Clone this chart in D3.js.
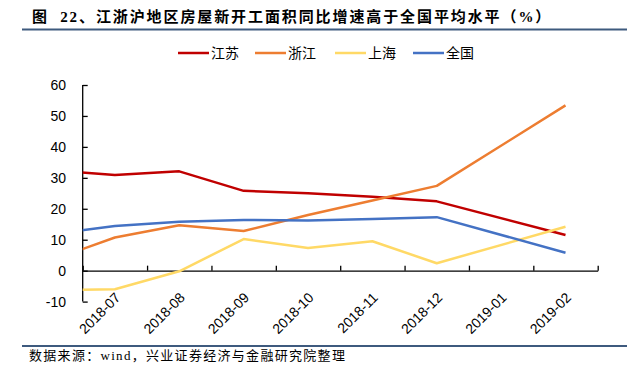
<!DOCTYPE html>
<html>
<head>
<meta charset="utf-8">
<script src="https://cdn.jsdelivr.net/npm/d3@7"></script>
<style>
  body { margin: 0; background: #fff; }
  .axis text { font-family: "Liberation Sans", Arial, sans-serif; font-size: 14px; fill: #000; }
  .axis path, .axis line { stroke: #000; stroke-width: 1.3; }
  .cjk { font-family: "Noto Sans CJK SC", sans-serif; }
  .serif { font-family: "Liberation Serif", "Noto Sans CJK SC", serif; }
</style>
</head>
<body>
<script>
// month labels on the x axis (one slot each)
var tickLabels = ["2018-07", "2018-08", "2018-09", "2018-10", "2018-11", "2018-12", "2019-01", "2019-02"];
// months that have data; 2018-06 sits just left of the axis and gets clipped
var months = ["2018-06", "2018-07", "2018-08", "2018-09", "2018-10", "2018-11", "2018-12", "2019-02"];

var jiangsu  = [32.5, 30.9, 32.1, 25.8, 25.0, 23.9, 22.4, 11.5];
var zhejiang = [3.3, 10.7, 14.7, 12.8, 18.0, 22.7, 27.4, 53.4];
var shanghai = [-6.4, -6.0, -0.2, 10.2, 7.3, 9.5, 2.4, 14.2];
var national = [11.8, 14.4, 15.8, 16.4, 16.2, 16.7, 17.3, 5.8];

var seriesNames = ["江苏", "浙江", "上海", "全国"];
var colors = ["#C00000", "#ED7D31", "#FFD966", "#4472C4"];

var series = [jiangsu, zhejiang, shanghai, national];

var width = 631, height = 378;
var svg = d3.select("body").append("svg")
    .attr("width", width)
    .attr("height", height);

// title + rule
svg.append("text")
    .attr("class", "serif")
    .attr("x", 32)
    .attr("y", 22)
    .style("font-size", "15px")
    .style("font-weight", "bold")
    .style("letter-spacing", "1.9px")
    .attr("xml:space", "preserve")
    .text("图  22、江浙沪地区房屋新开工面积同比增速高于全国平均水平（%）");

svg.append("line")
    .attr("x1", 22).attr("x2", 627)
    .attr("y1", 29.5).attr("y2", 29.5)
    .attr("stroke", "#3E5A7E").attr("stroke-width", 2);

// plot area
var x0 = 82.7, x1 = 597.7;
var x = d3.scaleLinear().domain([0, tickLabels.length]).range([x0, x1]);
var y = d3.scaleLinear().domain([-10, 60]).range([301.6, 85]);

function monthPos(m) {
    var p = m.split("-");
    var idx = (+p[0] - 2018) * 12 + (+p[1] - 7);
    return idx + 0.5;
}

svg.append("clipPath").attr("id", "plot")
    .append("rect")
    .attr("x", x0).attr("y", 0)
    .attr("width", x1 - x0).attr("height", height);

// y axis, ticks pointing inward
var yAxis = d3.axisRight(y).tickValues(d3.range(-10, 61, 10)).tickSize(5).tickFormat("");
svg.append("g").attr("class", "axis")
    .attr("transform", "translate(" + x0 + ",0)")
    .call(yAxis)
    .call(function (g) { g.select(".domain").attr("d", "M0," + y(-10) + "V" + y(60)); });

svg.append("g").attr("class", "axis")
    .selectAll("text")
    .data(d3.range(-10, 61, 10))
    .enter().append("text")
    .attr("x", 66)
    .attr("y", function (d) { return y(d); })
    .attr("dy", "0.35em")
    .attr("text-anchor", "end")
    .text(function (d) { return d; });

// x axis at zero, ticks pointing up
var xAxis = d3.axisTop(x).tickValues(d3.range(0, tickLabels.length + 1)).tickSize(5).tickSizeOuter(0).tickFormat("");
svg.append("g").attr("class", "axis")
    .attr("transform", "translate(0," + y(0) + ")")
    .call(xAxis);

svg.append("g").attr("class", "axis")
    .selectAll("text")
    .data(tickLabels)
    .enter().append("text")
    .attr("text-anchor", "end")
    .attr("transform", function (d, i) {
        return "translate(" + (x(i + 0.5) + 3) + "," + 295 + ") rotate(-45)";
    })
    .attr("dy", "0.35em")
    .text(function (d) { return d; });

// lines
var line = d3.line()
    .x(function (d) { return x(monthPos(d.m)); })
    .y(function (d) { return y(d.v); });

svg.append("g").attr("clip-path", "url(#plot)")
    .selectAll("path")
    .data(series)
    .enter().append("path")
    .attr("fill", "none")
    .attr("stroke", function (d, i) { return colors[i]; })
    .attr("stroke-width", 2.5)
    .attr("stroke-linejoin", "round")
    .attr("d", function (vals) {
        return line(vals.map(function (v, i) { return { m: months[i], v: v }; }));
    });

// legend
var legendX = [178, 255, 335, 413];
var lg = svg.append("g").selectAll("g")
    .data(seriesNames)
    .enter().append("g")
    .attr("transform", function (d, i) { return "translate(" + legendX[i] + ",53)"; });
lg.append("line")
    .attr("x1", 0).attr("x2", 31)
    .attr("stroke", function (d, i) { return colors[i]; })
    .attr("stroke-width", 2.5);
lg.append("text")
    .attr("class", "cjk")
    .attr("x", 33)
    .attr("dy", "0.35em")
    .style("font-size", "14px")
    .text(function (d) { return d; });

// source
svg.append("line")
    .attr("x1", 22).attr("x2", 627)
    .attr("y1", 346).attr("y2", 346)
    .attr("stroke", "#3E5A7E").attr("stroke-width", 2);

svg.append("text")
    .attr("class", "serif")
    .attr("x", 29)
    .attr("y", 360)
    .style("font-size", "13px")
    .style("letter-spacing", "1.3px")
    .text("数据来源：wind，兴业证券经济与金融研究院整理");
</script>
</body>
</html>
